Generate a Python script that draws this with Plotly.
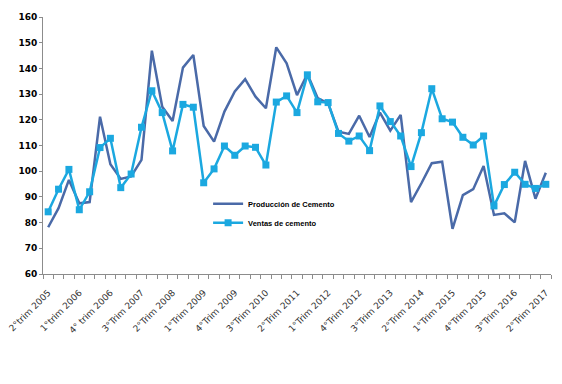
import plotly.graph_objects as go

tick_labels = ["2°trim 2005", "1°trim 2006", "4° trim 2006", "3°Trim 2007", "2°Trim 2008",
               "1°Trim 2009", "4°Trim 2009", "3°Trim 2010", "2°Trim 2011", "1°Trim 2012",
               "4°Trim 2012", "3°Trim 2013", "2°Trim 2014", "1°Trim 2015", "4°Trim 2015",
               "3°Trim 2016", "2°Trim 2017"]

produccion = [78.2, 85.6, 96.6, 87.5, 88.0, 121.2, 102.7, 97.0, 98.0, 104.4,
              146.9, 125.1, 119.5, 140.3, 145.2, 117.6, 111.5, 123.2, 131.0, 135.8,
              129.0, 124.5, 148.2, 142.0, 129.6, 137.8, 128.4, 126.4, 115.4, 114.5,
              121.6, 113.3, 122.8, 115.8, 121.9, 88.0, 95.3, 103.1, 103.7, 77.6,
              90.7, 93.0, 102.0, 83.0, 83.6, 80.1, 104.0, 89.3, 99.4]

ventas = [84.2, 93.0, 100.7, 85.0, 92.0, 109.2, 112.8, 93.6, 98.9, 117.1,
          131.3, 122.8, 107.9, 126.0, 124.9, 95.5, 100.9, 109.8, 106.2, 109.8,
          109.3, 102.4, 126.9, 129.3, 122.8, 137.5, 127.0, 126.7, 114.7, 111.7,
          113.7, 108.0, 125.4, 119.3, 113.7, 101.8, 115.0, 132.1, 120.4, 119.1,
          113.2, 110.2, 113.7, 86.5, 94.8, 99.6, 94.9, 93.3, 94.9]

x = list(range(len(produccion)))
label_pos = x[::3]

fig = go.Figure()
fig.add_trace(go.Scatter(x=x, y=produccion, mode="lines", name="Producción de Cemento",
                         line=dict(color="#4a6aa8", width=2.5)))
fig.add_trace(go.Scatter(x=x, y=ventas, mode="lines+markers", name="Ventas de cemento",
                         line=dict(color="#1ba8e0", width=2.5),
                         marker=dict(symbol="square", size=7, color="#1ba8e0")))

fig.update_layout(
    width=562, height=384,
    margin=dict(l=43, r=11, t=17, b=110),
    paper_bgcolor="white", plot_bgcolor="white",
    font=dict(family="DejaVu Sans", color="black"),
    showlegend=True,
    legend=dict(x=0.325, y=0.33, xanchor="left", yanchor="top",
                bgcolor="rgba(0,0,0,0)",
                font=dict(family="Liberation Sans", size=7.5, weight="bold"),
                itemwidth=30),
)
fig.update_xaxes(range=[-0.5, len(x) - 0.5], tickmode="array", tickvals=label_pos,
                 ticktext=tick_labels, tickangle=-45,
                 ticks="outside", ticklen=9, tickcolor="rgba(0,0,0,0)",
                 showgrid=False, showline=True, linecolor="#8c8c8c", linewidth=1,
                 zeroline=False, automargin=False, ticklabeloverflow="allow",
                 tickfont=dict(size=9, color="#333"),
                 minor=dict(ticks="outside", tick0=-0.5, dtick=1, ticklen=4,
                            tickcolor="#8c8c8c", showgrid=False))
fig.update_yaxes(range=[60, 160], dtick=10, ticks="outside", ticklen=3, tickcolor="#8c8c8c",
                 showgrid=False, showline=True, linecolor="#8c8c8c", linewidth=1,
                 zeroline=False, automargin=False,
                 tickfont=dict(size=9, weight="bold", color="black"))

fig.write_html("out.html", config={"displayModeBar": False},
               post_script="document.body.style.margin='0';")
